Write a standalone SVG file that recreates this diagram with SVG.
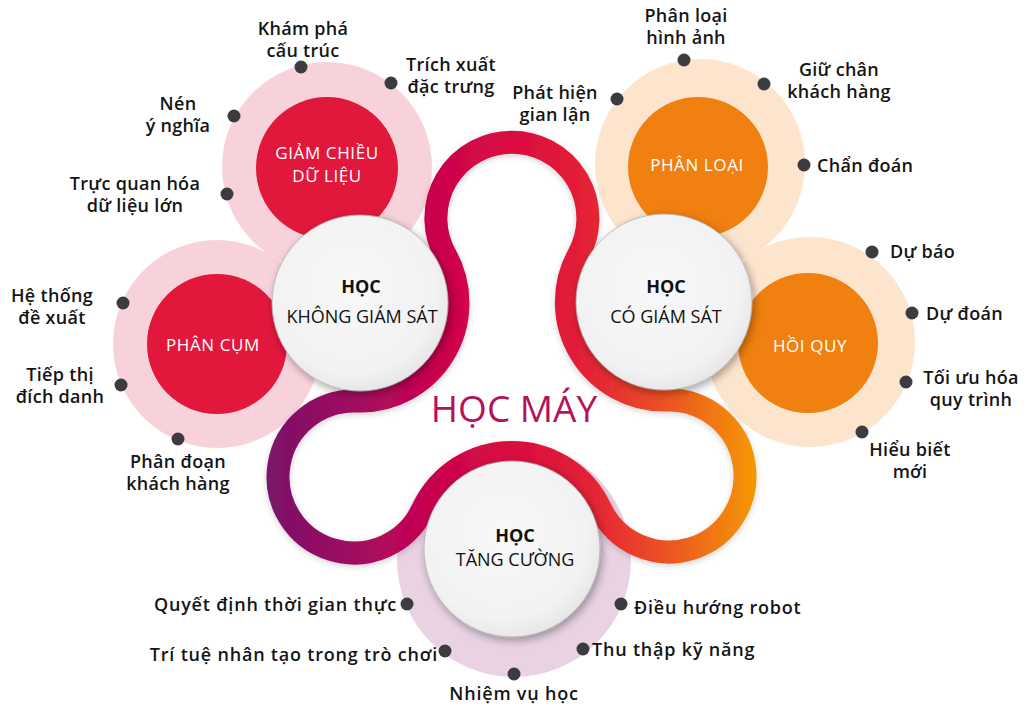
<svg xmlns="http://www.w3.org/2000/svg" width="1025" height="705" viewBox="0 0 1025 705">
  <defs>
    <linearGradient id="ribbonGrad" gradientUnits="userSpaceOnUse" x1="268" y1="0" x2="765" y2="0">
      <stop offset="0" stop-color="#7a1368"/>
      <stop offset="0.17" stop-color="#a00a61"/>
      <stop offset="0.33" stop-color="#c9044f"/>
      <stop offset="0.49" stop-color="#da0a40"/>
      <stop offset="0.65" stop-color="#e42335"/>
      <stop offset="0.80" stop-color="#ec5223"/>
      <stop offset="1" stop-color="#f5a000"/>
    </linearGradient>
    <radialGradient id="whiteFill" cx="0.45" cy="0.42" r="0.6">
      <stop offset="0" stop-color="#f8f8f8"/>
      <stop offset="0.8" stop-color="#f2f2f2"/>
      <stop offset="1" stop-color="#e6e6e6"/>
    </radialGradient>
    <filter id="shadow" x="-20%" y="-20%" width="140%" height="140%">
      <feDropShadow dx="2" dy="3" stdDeviation="4" flood-color="#000" flood-opacity="0.35"/>
    </filter>
    <filter id="softShadow" x="-20%" y="-20%" width="140%" height="140%">
      <feDropShadow dx="0" dy="2" stdDeviation="3" flood-color="#000" flood-opacity="0.18"/>
    </filter>
  </defs>
  <style>
    .ring-pink { fill: #f8d2da; }
    .ring-peach { fill: #fde4cd; }
    .ring-lilac { fill: #e9d2e3; }
    .core-red { fill: #e2173c; }
    .core-orange { fill: #f0800f; }
    .hub { fill: url(#whiteFill); stroke: #b0b0b0; stroke-width: 0.8; filter: url(#shadow); }
    .dot { fill: #3b3b40; }
    .lbl { font-family: "Open Sans", "Noto Sans", "Liberation Sans", sans-serif; font-weight: 600; font-size: 18px; letter-spacing: 0.3px; fill: #151515; }
    .wide { letter-spacing: 0.8px; }
    .core-txt { font-family: "Open Sans", "Noto Sans", "Liberation Sans", sans-serif; font-size: 17px; fill: #ffffff; letter-spacing: 0.6px; text-anchor: middle; }
    .hub-b { font-family: "Open Sans", "Noto Sans", "Liberation Sans", sans-serif; font-weight: 700; font-size: 18px; fill: #111; text-anchor: middle; }
    .hub-t { font-family: "Open Sans", "Noto Sans", "Liberation Sans", sans-serif; font-size: 18px; fill: #111; text-anchor: middle; }
    .mid { text-anchor: middle; }
    .end { text-anchor: end; }
    .title { font-family: "Open Sans", "Noto Sans", "Liberation Sans", sans-serif; font-size: 37px; fill: #b3125d; text-anchor: middle; }
  </style>

  <rect width="1025" height="705" fill="#ffffff"/>

  <!-- Outer category bubbles -->
  <g id="node-phan-cum">
    <circle class="ring-pink" cx="217" cy="344" r="104"/>
    <circle class="core-red" cx="217" cy="344" r="70"/>
    <text class="core-txt" x="213" y="351">PHÂN CỤM</text>
    <circle class="dot" cx="123" cy="303" r="6.5"/>
    <circle class="dot" cx="121" cy="385" r="6.5"/>
    <circle class="dot" cx="178" cy="439" r="6.5"/>
    <text class="lbl mid" x="52" y="302">Hệ thống<tspan x="52" dy="22">đề xuất</tspan></text>
    <text class="lbl mid" x="60" y="381">Tiếp thị<tspan x="60" dy="22">đích danh</tspan></text>
    <text class="lbl mid" x="178" y="468">Phân đoạn<tspan x="178" dy="22">khách hàng</tspan></text>
  </g>

  <g id="node-giam-chieu">
    <circle class="ring-pink" cx="327" cy="167" r="105"/>
    <circle class="core-red" cx="327" cy="168" r="71"/>
    <text class="core-txt" x="327" y="159">GIẢM CHIỀU<tspan x="327" dy="23">DỮ LIỆU</tspan></text>
    <circle class="dot" cx="301" cy="67" r="6.5"/>
    <circle class="dot" cx="391" cy="83" r="6.5"/>
    <circle class="dot" cx="234" cy="116" r="6.5"/>
    <circle class="dot" cx="227" cy="194" r="6.5"/>
    <text class="lbl mid" x="303" y="35">Khám phá<tspan x="303" dy="22">cấu trúc</tspan></text>
    <text class="lbl mid" x="451" y="71">Trích xuất<tspan x="451" dy="22">đặc trưng</tspan></text>
    <text class="lbl mid" x="178" y="110">Nén<tspan x="178" dy="22">ý nghĩa</tspan></text>
    <text class="lbl mid" x="135" y="190">Trực quan hóa<tspan x="135" dy="22">dữ liệu lớn</tspan></text>
  </g>

  <g id="node-hoi-quy">
    <circle class="ring-peach" cx="810" cy="342" r="105"/>
    <circle class="core-orange" cx="808" cy="343" r="70"/>
    <text class="core-txt" x="810" y="352">HỒI QUY</text>
    <circle class="dot" cx="872" cy="252" r="6.5"/>
    <circle class="dot" cx="912" cy="313" r="6.5"/>
    <circle class="dot" cx="906" cy="382" r="6.5"/>
    <circle class="dot" cx="862" cy="432" r="6.5"/>
    <text class="lbl" x="890" y="258">Dự báo</text>
    <text class="lbl" x="926" y="320">Dự đoán</text>
    <text class="lbl mid" x="971" y="384">Tối ưu hóa<tspan x="971" dy="22">quy trình</tspan></text>
    <text class="lbl mid" x="910" y="456">Hiểu biết<tspan x="910" dy="22">mới</tspan></text>
  </g>

  <g id="node-phan-loai">
    <circle class="ring-peach" cx="700" cy="164" r="105"/>
    <circle class="core-orange" cx="698" cy="167" r="70"/>
    <text class="core-txt" x="697" y="171">PHÂN LOẠI</text>
    <circle class="dot" cx="684" cy="60" r="6.5"/>
    <circle class="dot" cx="764" cy="84" r="6.5"/>
    <circle class="dot" cx="617" cy="99" r="6.5"/>
    <circle class="dot" cx="804" cy="165" r="6.5"/>
    <text class="lbl mid" x="686" y="22">Phân loại<tspan x="686" dy="22">hình ảnh</tspan></text>
    <text class="lbl mid" x="839" y="76">Giữ chân<tspan x="839" dy="22">khách hàng</tspan></text>
    <text class="lbl mid" x="555" y="99">Phát hiện<tspan x="555" dy="22">gian lận</tspan></text>
    <text class="lbl" x="817" y="172">Chẩn đoán</text>
  </g>

  <g id="node-tang-cuong-ring">
    <circle class="ring-lilac" cx="514" cy="560" r="117"/>
    <circle class="dot" cx="407" cy="604" r="6.5"/>
    <circle class="dot" cx="445" cy="651" r="6.5"/>
    <circle class="dot" cx="514" cy="674" r="6.5"/>
    <circle class="dot" cx="583" cy="649" r="6.5"/>
    <circle class="dot" cx="621" cy="604" r="6.5"/>
    <text class="lbl wide end" x="397" y="611">Quyết định thời gian thực</text>
    <text class="lbl wide end" x="438" y="661">Trí tuệ nhân tạo trong trò chơi</text>
    <text class="lbl wide mid" x="514" y="700">Nhiệm vụ học</text>
    <text class="lbl wide" x="634" y="614">Điều hướng robot</text>
    <text class="lbl wide" x="592" y="656">Thu thập kỹ năng</text>
  </g>

  <!-- Gradient ribbon looping around the three learning types -->
  <g id="ribbon">
    <path d="M 445.5 255.2 A 76 76 0 1 1 578.5 254.8 A 98 98 0 0 0 666.8 400 A 76 76 0 1 1 600.3 508.4 A 98 98 0 0 0 423 508.9 A 76 76 0 1 1 356.6 401 A 98 98 0 0 0 445.5 255.2 Z"
          fill="none" stroke="url(#ribbonGrad)" stroke-width="23" filter="url(#softShadow)"/>
  </g>

  <!-- Learning-type hubs -->
  <g id="node-khong-giam-sat">
    <circle class="hub" cx="360" cy="303" r="88"/>
    <text class="hub-b" x="361" y="293">HỌC</text>
    <text class="hub-t" x="362" y="323">KHÔNG GIÁM SÁT</text>
  </g>

  <g id="node-co-giam-sat">
    <circle class="hub" cx="664" cy="302" r="88"/>
    <text class="hub-b" x="666" y="293">HỌC</text>
    <text class="hub-t" x="666" y="323">CÓ GIÁM SÁT</text>
  </g>

  <g id="node-tang-cuong">
    <circle class="hub" cx="512" cy="549" r="88"/>
    <text class="hub-b" x="515" y="542">HỌC</text>
    <text class="hub-t" x="515" y="566">TĂNG CƯỜNG</text>
  </g>

  <g id="node-hoc-may">
    <text class="title" x="514" y="422">HỌC MÁY</text>
  </g>
</svg>
